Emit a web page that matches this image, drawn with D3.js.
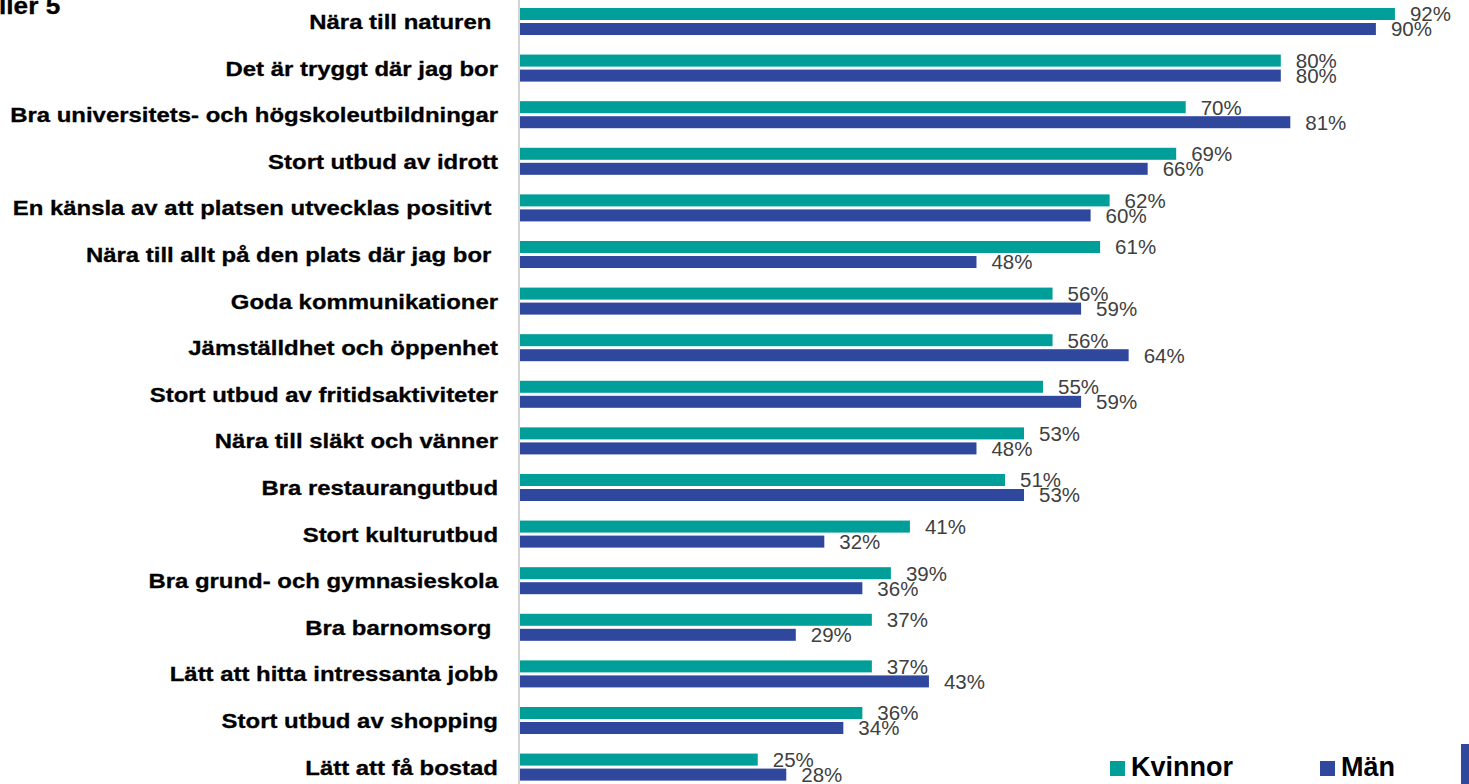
<!DOCTYPE html>
<html>
<head>
<meta charset="utf-8">
<script src="https://cdn.jsdelivr.net/npm/d3@7"></script>
<style>
  html, body { margin: 0; padding: 0; background: #fff; overflow: hidden; }
  text { font-family: "Liberation Sans", Arial, sans-serif; }
</style>
</head>
<body>
<div id="chart"></div>
<script>

const WIDTH = 1469;
const HEIGHT = 784;

// Data.
const categories = [
    "Nära till naturen ",
    "Det är tryggt där jag bor",
    "Bra universitets- och högskoleutbildningar",
    "Stort utbud av idrott",
    "En känsla av att platsen utvecklas positivt ",
    "Nära till allt på den plats där jag bor ",
    "Goda kommunikationer",
    "Jämställdhet och öppenhet",
    "Stort utbud av fritidsaktiviteter",
    "Nära till släkt och vänner",
    "Bra restaurangutbud",
    "Stort kulturutbud",
    "Bra grund- och gymnasieskola",
    "Bra barnomsorg ",
    "Lätt att hitta intressanta jobb",
    "Stort utbud av shopping",
    "Lätt att få bostad"
];
const series = ["Kvinnor", "Män"];
const kvinnor = [92, 80, 70, 69, 62, 61, 56, 56, 55, 53, 51, 41, 39, 37, 37, 36, 25];
const man     = [90, 80, 81, 66, 60, 48, 59, 64, 59, 48, 53, 32, 36, 29, 43, 34, 28];
const titleText = "ller 5";

const COLORS = {"Kvinnor": "#009e98", "Män": "#30479e"};

window.onload = function() {

    var rows = categories.map(function (c, i) {
        return {cat: c, values: [
            {key: series[0], value: kvinnor[i]},
            {key: series[1], value: man[i]}
        ]};
    });

    var svg = d3.select("#chart").append("svg")
                .attr("width", WIDTH)
                .attr("height", HEIGHT);

    // scales
    var x = d3.scaleLinear().domain([0, 100]).range([520, 1471]);

    var y = d3.scaleBand()
              .domain(categories)
              .range([-1.8, 790.4])
              .paddingInner(0.42)
              .paddingOuter(0.21);

    var y1 = d3.scaleBand()
               .domain(series)
               .range([0, y.bandwidth()])
               .paddingInner(0.2);

    // category axis line
    svg.append("line")
       .attr("x1", 519).attr("x2", 519)
       .attr("y1", 0).attr("y2", HEIGHT)
       .attr("stroke", "#d4d4d4")
       .attr("stroke-width", 2);

    var group = svg.selectAll("g.row")
                   .data(rows)
                   .enter()
                   .append("g")
                   .attr("class", "row")
                   .attr("transform", function (d) { return "translate(0," + y(d.cat) + ")"; });

    group.selectAll("rect")
         .data(function (d) { return d.values; })
         .enter()
         .append("rect")
         .attr("x", x(0))
         .attr("y", function (d) { return y1(d.key); })
         .attr("width", function (d) { return x(d.value) - x(0); })
         .attr("height", y1.bandwidth())
         .attr("fill", function (d) { return COLORS[d.key]; });

    group.selectAll("text.val")
         .data(function (d) { return d.values; })
         .enter()
         .append("text")
         .attr("class", "val")
         .attr("x", function (d) { return x(d.value) + 15; })
         .attr("y", function (d) { return y1(d.key) + y1.bandwidth() / 2 + 7.4; })
         .attr("font-size", "20.5px")
         .attr("fill", "#404040")
         .text(function (d) { return d.value + "%"; });

    // category labels (stretched a bit horizontally like the original)
    group.append("text")
         .attr("class", "cat")
         .attr("transform", "translate(498," + (y.bandwidth() / 2 + 7.5) + ") scale(1.14,1)")
         .attr("text-anchor", "end")
         .attr("font-size", "21px")
         .attr("font-weight", "bold")
         .attr("fill", "#000")
         .attr("stroke", "#000")
         .attr("stroke-width", 0.3)
         .style("white-space", "pre")
         .text(function (d) { return d.cat; });

    // title (cut off at the left and top edge)
    svg.append("text")
       .attr("transform", "translate(-1,13.5) scale(1.14,1)")
       .attr("font-size", "23px")
       .attr("font-weight", "bold")
       .attr("fill", "#000")
       .attr("stroke", "#000")
       .attr("stroke-width", 0.3)
       .text(titleText);

    // legend
    var legendX = [1110, 1320];
    var legend = svg.selectAll("g.legend")
                    .data(series)
                    .enter()
                    .append("g")
                    .attr("class", "legend")
                    .attr("transform", function (d, i) { return "translate(" + legendX[i] + ",761)"; });

    legend.append("rect")
          .attr("width", 15)
          .attr("height", 15)
          .attr("fill", function (d) { return COLORS[d]; });

    legend.append("text")
          .attr("x", 21)
          .attr("y", 15)
          .attr("font-size", "27px")
          .attr("font-weight", "bold")
          .attr("fill", "#000")
          .text(function (d) { return d; });

    // blue block cut off at the right edge
    svg.append("rect")
       .attr("x", 1461).attr("y", 744)
       .attr("width", 10).attr("height", 40)
       .attr("fill", COLORS["Män"]);
};

</script>
</body>
</html>
